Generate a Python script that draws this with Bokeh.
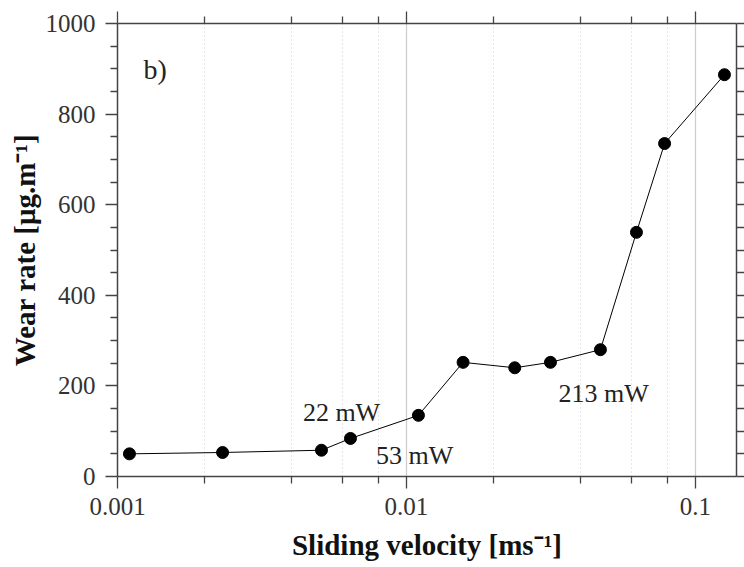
from bokeh.plotting import figure
from bokeh.models import (LogAxis, LinearAxis, FixedTicker, Range1d, Label,
                          CustomJSTickFormatter, ColumnDataSource)
from bokeh.embed import file_html
from bokeh.resources import INLINE

# ---- data ----
velocity = [0.0011, 0.00231, 0.00508, 0.0064, 0.0110, 0.0157, 0.0237, 0.0315, 0.0469, 0.0625, 0.0782, 0.126]
wear_rate = [50, 53, 58, 84, 135, 252, 240, 252, 280, 539, 735, 887]

x_major = [0.001, 0.01, 0.1]
x_minor = [0.002, 0.004, 0.006, 0.008, 0.02, 0.04, 0.06, 0.08]
y_major = [0, 200, 400, 600, 800, 1000]
y_minor = [50, 100, 150, 250, 300, 350, 450, 500, 550, 650, 700, 750, 850, 900, 950]

notes = ["22 mW", "53 mW", "213 mW"]
note_x = [0.00596, 0.01067, 0.0481]
note_y = [141, 46, 183]

SERIF = "Liberation Serif"
AX = "#444444"

p = figure(width=744, height=567, x_axis_type="log",
           x_range=Range1d(0.001, 0.1387), y_range=Range1d(0, 1000),
           output_backend="svg", toolbar_location=None,
           min_border_left=117, min_border_right=8, min_border_top=23, min_border_bottom=91)
p.outline_line_color = None
p.background_fill_color = "white"

xt = FixedTicker(ticks=x_major, minor_ticks=x_minor)
yt = FixedTicker(ticks=y_major, minor_ticks=y_minor)
fmt = CustomJSTickFormatter(code="return tick.toString();")
blank = CustomJSTickFormatter(code="return '';")

def style(ax):
    ax.axis_line_color = AX
    ax.axis_line_width = 1.5
    ax.major_tick_line_color = AX
    ax.minor_tick_line_color = AX
    ax.major_tick_line_width = 1.3
    ax.minor_tick_line_width = 1.3
    ax.major_tick_out = 12
    ax.major_tick_in = 0
    ax.minor_tick_out = 7
    ax.minor_tick_in = 0
    ax.major_label_text_font = SERIF
    ax.major_label_text_font_size = "25px"
    ax.major_label_text_color = "#333333"
    ax.axis_label_text_font = SERIF
    ax.axis_label_text_font_style = "bold"
    ax.axis_label_text_font_size = "29px"
    ax.axis_label_text_color = "#111111"

xa = p.xaxis[0]
xa.ticker = xt
xa.formatter = fmt
xa.axis_label = "Sliding velocity [ms\u207b\u00b9]"
style(xa)
xa.major_label_standoff = 9
xa.axis_label_standoff = 11

ya = p.yaxis[0]
ya.ticker = yt
ya.axis_label = "Wear rate [\u03bcg.m\u207b\u00b9]"
style(ya)
ya.major_label_standoff = 10
ya.axis_label_standoff = 2

top = LogAxis(ticker=xt, formatter=blank)
style(top)
top.major_label_standoff = 0
p.add_layout(top, "above")
right = LinearAxis(ticker=yt, formatter=blank)
style(right)
right.major_label_standoff = 0
right.major_tick_out = 8
right.minor_tick_out = 8
p.add_layout(right, "right")

p.xgrid.ticker = xt
p.xgrid.grid_line_color = "#cccccc"
p.xgrid.grid_line_width = 1.2
p.xgrid.minor_grid_line_color = "#cccccc"
p.xgrid.minor_grid_line_dash = "1 3"
p.ygrid.grid_line_color = None

src = ColumnDataSource(dict(x=velocity, y=wear_rate))
p.line("x", "y", source=src, line_color="black", line_width=1)
p.scatter("x", "y", source=src, size=12, fill_color="black", line_color="black")

for t, x, y in zip(notes, note_x, note_y):
    p.add_layout(Label(x=x, y=y, text=t, text_align="center", text_baseline="alphabetic",
                       text_font=SERIF, text_font_size="26px", text_color="#222222"))

p.add_layout(Label(x=0.00123, y=898, text="b)", text_align="left", text_baseline="alphabetic",
                   text_font=SERIF, text_font_size="28px", text_color="#222222"))

open("out.html", "w").write(file_html(p, INLINE))
